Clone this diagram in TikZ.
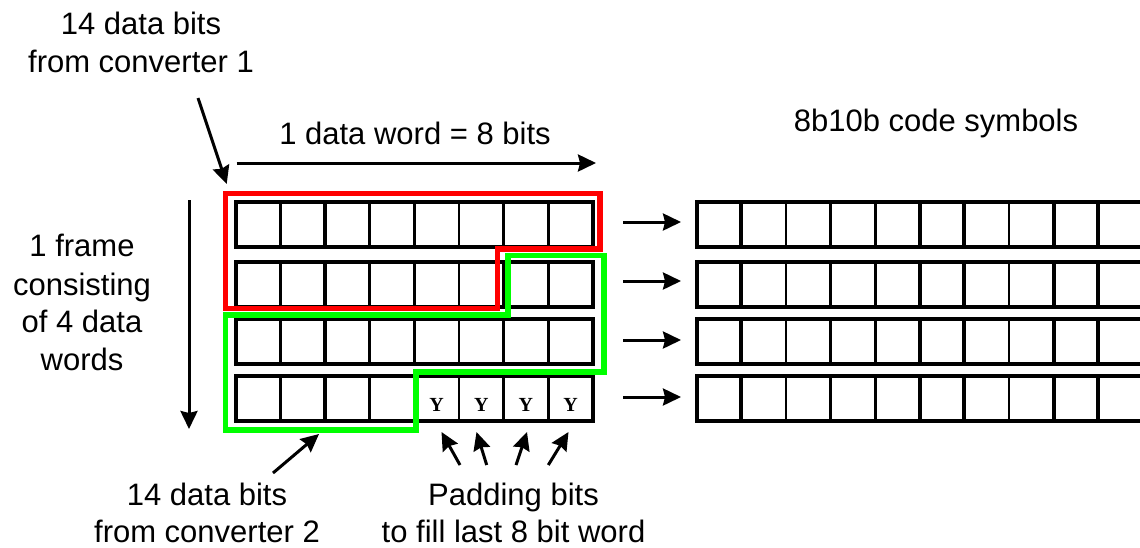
\documentclass[tikz,border=0pt]{standalone}
\usepackage{fontspec}
\setmainfont{Liberation Sans}
\newfontfamily\yfont{Liberation Serif}
\usetikzlibrary{arrows.meta}
\begin{document}
\begin{tikzpicture}[x=1pt,y=-1pt,
  lbl/.style={font=\fontsize{31}{37}\selectfont, anchor=base, inner sep=0pt},
  arr/.style={line width=3pt, -{Stealth[length=18pt,width=17pt,inset=2pt]}},
  cellthin/.style={line width=2.8pt},
  cellthick/.style={line width=4pt},
  redline/.style={draw={rgb,255:red,255;green,0;blue,0}, line width=5.5pt, line join=miter},
  greenline/.style={draw={rgb,255:red,0;green,255;blue,0}, line width=5.5pt, line join=miter},
  ysym/.style={font=\yfont\bfseries\fontsize{20}{20}\selectfont, inner sep=0pt}
]
\useasboundingbox (0,0) rectangle (1140,547);
\clip (0,0) rectangle (1140,547);

% grids
\foreach \t/\b in {201.5/246.7, 261.5/306.7, 319.3/364.3, 375.5/420.5} {
  % left word
  \foreach \k in {1,3,4,5,6,7} \draw[cellthin] ({236+44.6*\k},\t) -- ({236+44.6*\k},\b);
  \draw[cellthick] ({236+44.6*2},\t) -- ({236+44.6*2},\b);
  \draw[cellthick] (236,\t) rectangle (592.8,\b);
  % right code symbols
  \foreach \k in {2,3,4,7,10} \draw[cellthin] ({696.7+44.6*\k},\t) -- ({696.7+44.6*\k},\b);
  \foreach \k in {1,5,6,8,9} \draw[cellthick] ({696.7+44.6*\k},\t) -- ({696.7+44.6*\k},\b);
  \draw[cellthick] (696.7,\t) rectangle (1170,\b);
}

% padding symbols
\foreach \k in {4,...,7} \node[ysym] (y\k) at ({236+44.6*\k+22.3},405) {Y};

% red and green outlines
\draw[redline] (225.5,193.3) -- (600,193.3) -- (600,249) -- (497.5,249) -- (497.5,308.3) -- (225.5,308.3) -- cycle;
\draw[greenline] (225.5,315) -- (508,315) -- (508,255.5) -- (604,255.5) -- (604,372) -- (416,372) -- (416,430) -- (225.5,430) -- cycle;

% labels
\node[lbl] (c1a) at (141,34) {14 data bits};
\node[lbl] (c1b) at (141,72) {from converter 1};
\node[lbl] (word) at (415,144) {1 data word = 8 bits};
\node[lbl] (code) at (936,131) {8b10b code symbols};
\node[lbl] (fr1) at (82,256) {1 frame};
\node[lbl] (fr2) at (82,295) {consisting};
\node[lbl] (fr3) at (82,332) {of 4 data};
\node[lbl] (fr4) at (82,370) {words};
\node[lbl] (c2a) at (207,505) {14 data bits};
\node[lbl] (c2b) at (207,542) {from converter 2};
\node[lbl] (pa) at (513.5,505) {Padding bits};
\node[lbl] (pb) at (513.5,542) {to fill last 8 bit word};

% arrow end points
\coordinate (c1s) at (198,98);
\coordinate (c1e) at (226.7,184);
\coordinate (ws) at (236.7,163);
\coordinate (we) at (596,163);
\coordinate (fs) at (189,200);
\coordinate (fe) at (189,429);
\coordinate (c2s) at (273,473);
\coordinate (c2e) at (319,434);
\foreach \sx/\ex/\i in {460/441.5/1, 486.7/476.5/2, 516/527/3, 548.3/568.5/4} {
  \coordinate (ps\i) at (\sx,465);
  \coordinate (pe\i) at (\ex,432);
}
\foreach \y/\i in {222/1, 281/2, 340/3, 397/4} {
  \coordinate (rs\i) at (623,\y);
  \coordinate (re\i) at (681,\y);
}

% arrows
\draw[arr] (c1s) -- (c1e);
\draw[arr] (ws) -- (we);
\draw[arr] (fs) -- (fe);
\draw[arr] (c2s) -- (c2e);
\foreach \i in {1,...,4} \draw[arr] (ps\i) -- (pe\i);
\foreach \i in {1,...,4} \draw[arr] (rs\i) -- (re\i);
\end{tikzpicture}
\end{document}
